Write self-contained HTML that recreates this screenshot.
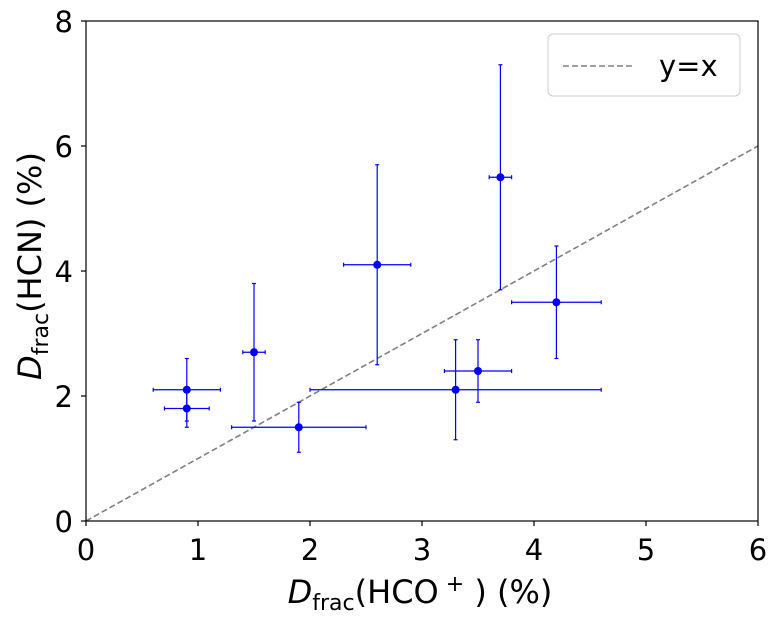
<!DOCTYPE html>
<html><head><meta charset="utf-8"><style>
html,body{margin:0;padding:0;background:#fff;}
text{font-family:"DejaVu Sans","Liberation Sans",sans-serif;fill:#000;}
</style></head><body>
<svg id="s" width="779" height="627" xmlns="http://www.w3.org/2000/svg">
<rect width="779" height="627" fill="#fff"/>
<line x1="86" y1="521" x2="758" y2="146" stroke="#808080" stroke-width="1.6" stroke-dasharray="6,3"/>
<g id="d" stroke="#0000ff" stroke-width="1.2" fill="#0000ff"></g>
<rect x="86" y="21" width="672" height="500" fill="none" stroke="#000" stroke-width="1.2"/>
<g id="t" font-size="29"></g>
<rect x="548" y="34" width="192" height="62" rx="5" fill="#fff" stroke="#ccc" stroke-width="1"/>
<line x1="563" y1="66" x2="633" y2="66" stroke="#808080" stroke-width="1.6" stroke-dasharray="6,3"/>
<text x="659" y="76" font-size="29">y=x</text>
<text x="420" y="603" font-size="32" text-anchor="middle"><tspan font-style="italic">D</tspan><tspan font-size="22" dy="7">frac</tspan><tspan dy="-7">(HCO</tspan><tspan font-size="22" dy="-12"> +</tspan><tspan dy="12"> ) (%)</tspan></text>
<text transform="translate(41,266) rotate(-90)" font-size="32" text-anchor="middle"><tspan font-style="italic">D</tspan><tspan font-size="22" dy="7">frac</tspan><tspan dy="-7">(HCN) (%)</tspan></text>
</svg>
<script>
var X=function(x){return 86+112*x},Y=function(y){return 521-62.5*y};
var pts=[[0.9,2.1,0.3,0.5],[0.9,1.8,0.2,0.3],[1.5,2.7,0.1,1.1],[1.9,1.5,0.6,0.4],[2.6,4.1,0.3,1.6],[3.3,2.1,1.3,0.8],[3.5,2.4,0.3,0.5],[3.7,5.5,0.1,1.8],[4.2,3.5,0.4,0.9]];
var h='';
pts.forEach(function(p){var x=X(p[0]),y=Y(p[1]),x1=X(p[0]-p[2]),x2=X(p[0]+p[2]),y1=Y(p[1]-p[3]),y2=Y(p[1]+p[3]);
h+='<line x1="'+x1+'" y1="'+y+'" x2="'+x2+'" y2="'+y+'"/><line x1="'+x+'" y1="'+y1+'" x2="'+x+'" y2="'+y2+'"/>';
h+='<line x1="'+x1+'" y1="'+(y-2)+'" x2="'+x1+'" y2="'+(y+2)+'"/><line x1="'+x2+'" y1="'+(y-2)+'" x2="'+x2+'" y2="'+(y+2)+'"/>';
h+='<line x1="'+(x-2)+'" y1="'+y1+'" x2="'+(x+2)+'" y2="'+y1+'"/><line x1="'+(x-2)+'" y1="'+y2+'" x2="'+(x+2)+'" y2="'+y2+'"/>';
h+='<circle cx="'+x+'" cy="'+y+'" r="4" stroke="none"/>';});
document.getElementById('d').innerHTML=h;
var t='';
for(var i=0;i<=6;i++){var x=X(i);t+='<line x1="'+x+'" y1="521" x2="'+x+'" y2="526" stroke="#000" stroke-width="1.2"/><text x="'+x+'" y="560" text-anchor="middle">'+i+'</text>';}
for(var j=0;j<=8;j+=2){var y=Y(j);t+='<line x1="81" y1="'+y+'" x2="86" y2="'+y+'" stroke="#000" stroke-width="1.2"/><text x="73" y="'+(y+11)+'" text-anchor="end">'+j+'</text>';}
document.getElementById('t').innerHTML=t;
</script>
</body></html>
